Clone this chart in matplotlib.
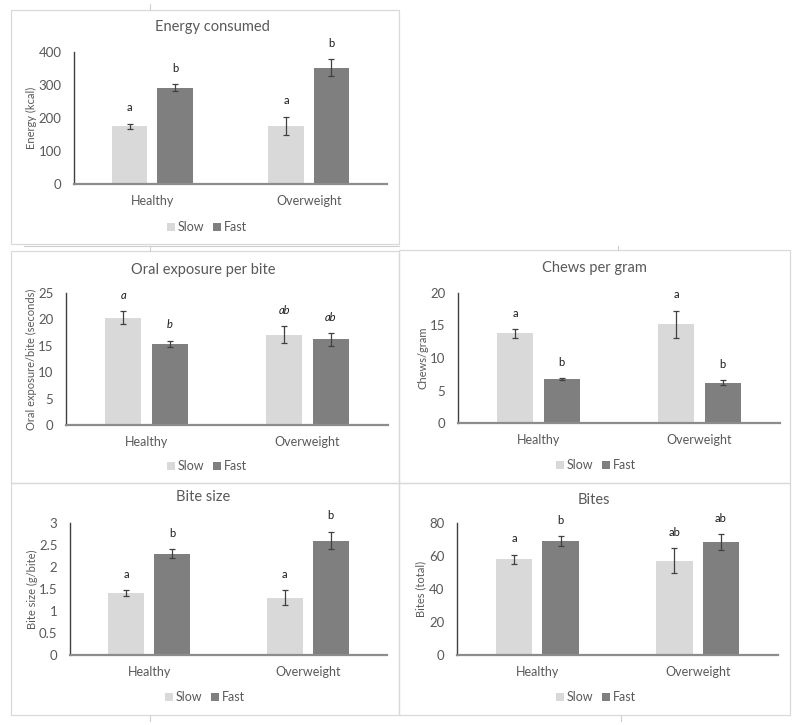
import numpy as np
import matplotlib
matplotlib.use("Agg")
import matplotlib.pyplot as plt
from matplotlib.patches import Rectangle
from matplotlib.lines import Line2D

plt.rcParams['font.family'] = ['Lato', 'DejaVu Sans']

# ---- data ----
groups = ['Healthy', 'Overweight']
series = ['Slow', 'Fast']

energy_slow = [175, 177]
energy_fast = [292, 353]
energy_slow_err = [8, 27]
energy_fast_err = [10, 25]
energy_slow_sig = ['a', 'a']
energy_fast_sig = ['b', 'b']

oral_slow = [20.3, 17.1]
oral_fast = [15.4, 16.2]
oral_slow_err = [1.2, 1.6]
oral_fast_err = [0.6, 1.2]
oral_slow_sig = ['a', 'ab']
oral_fast_sig = ['b', 'ab']

chews_slow = [13.8, 15.2]
chews_fast = [6.75, 6.2]
chews_slow_err = [0.65, 2.1]
chews_fast_err = [0.1, 0.35]
chews_slow_sig = ['a', 'a']
chews_fast_sig = ['b', 'b']

bite_slow = [1.40, 1.30]
bite_fast = [2.30, 2.60]
bite_slow_err = [0.07, 0.17]
bite_fast_err = [0.10, 0.20]
bite_slow_sig = ['a', 'a']
bite_fast_sig = ['b', 'b']

bites_slow = [58.1, 57.1]
bites_fast = [69.0, 68.4]
bites_slow_err = [2.7, 7.5]
bites_fast_err = [2.9, 5.0]
bites_slow_sig = ['a', 'ab']
bites_fast_sig = ['b', 'ab']

W, H = 800, 725
SLOW_C = '#d9d9d9'
FAST_C = '#7f7f7f'
TXT = '#595959'


def fig_rect(l, t, r, b):
    return [l / W, 1 - b / H, (r - l) / W, (b - t) / H]


def border(fig, l, t, r, b, color='#d9d9d9'):
    fig.add_artist(Rectangle((l / W, 1 - b / H), (r - l) / W, (b - t) / H,
                             transform=fig.transFigure, fill=False,
                             edgecolor=color, lw=0.9))


def seg(fig, x0, y0, x1, y1, color='#cfcfcf'):
    fig.add_artist(Line2D([x0 / W, x1 / W], [1 - y0 / H, 1 - y1 / H],
                          transform=fig.transFigure, color=color, lw=0.8))


def draw_panel(fig, ax_px, title, title_xy, ylabel, ylab_x, ymax, ystep,
               slow, fast, slow_err, fast_err, slow_sig, fast_sig,
               legend_xy, italic=False):
    ax = fig.add_axes(fig_rect(*ax_px))
    x = np.arange(len(groups))
    w, off = 0.225, 0.145
    ax.bar(x - off, slow, w, color=SLOW_C, label=series[0], zorder=2)
    ax.bar(x + off, fast, w, color=FAST_C, label=series[1], zorder=2)
    for xs, v, e in ((x - off, slow, slow_err), (x + off, fast, fast_err)):
        ax.errorbar(xs, v, yerr=e, fmt='none', ecolor='#404040',
                    elinewidth=0.9, capsize=2.5, capthick=0.9, zorder=3)
    pad = 0.12 * ymax
    for xs, v, e, s in ((x - off, slow, slow_err, slow_sig),
                        (x + off, fast, fast_err, fast_sig)):
        for xi, vi, ei, si in zip(xs, v, e, s):
            ax.text(xi, vi + ei + pad, si, ha='center', va='center',
                    fontsize=8, color='#1a1a1a',
                    style='italic' if italic else 'normal', clip_on=False)
    ax.set_xlim(-0.5, 1.5)
    ax.set_ylim(0, ymax)
    ticks = np.arange(0, ymax + ystep / 2, ystep)
    ax.set_yticks(ticks, [f'{t:g}' for t in ticks])
    ax.set_xticks(x, groups)
    ax.tick_params(axis='y', length=0, pad=9, labelsize=9.5, labelcolor=TXT)
    ax.tick_params(axis='x', length=0, pad=8, labelsize=9, labelcolor=TXT)
    for s in ('top', 'right'):
        ax.spines[s].set_visible(False)
    ax.spines['left'].set_color('#404040')
    ax.spines['left'].set_linewidth(1.0)
    ax.spines['bottom'].set_color('#8c8c8c')
    ax.spines['bottom'].set_linewidth(1.6)
    ax.patch.set_alpha(0)

    fig.text(title_xy[0] / W, 1 - title_xy[1] / H, title, ha='center',
             va='center', fontsize=10.5, color=TXT)
    yc = (ax_px[1] + ax_px[3]) / 2
    fig.text(ylab_x / W, 1 - yc / H, ylabel, rotation=90, ha='center',
             va='center', fontsize=8, color=TXT)
    ax.legend(loc='center', bbox_to_anchor=(legend_xy[0] / W, 1 - legend_xy[1] / H),
              bbox_transform=fig.transFigure, ncol=2, frameon=False,
              fontsize=9, handlelength=0.6, handleheight=0.6,
              handletextpad=0.25, columnspacing=0.7, labelcolor=TXT,
              borderpad=0)
    return ax


fig = plt.figure(figsize=(W / 100, H / 100), dpi=100)

# panel frames (Word layout)
border(fig, 11, 10, 399, 244)
border(fig, 11, 251, 399, 483)
border(fig, 399, 250, 790, 483)
border(fig, 11, 483, 399, 715)
border(fig, 399, 483, 790, 715)
seg(fig, 24, 246, 399, 246)
seg(fig, 150, 4, 150, 10)
seg(fig, 150, 246, 150, 251)
seg(fig, 618, 246, 618, 250)
seg(fig, 150, 716, 150, 721)
seg(fig, 621, 716, 621, 721)

draw_panel(fig, (74, 52, 387, 184), 'Energy consumed', (212, 27),
           'Energy (kcal)', 31, 400, 100,
           energy_slow, energy_fast, energy_slow_err, energy_fast_err,
           energy_slow_sig, energy_fast_sig, (207, 227))

draw_panel(fig, (66, 293, 388, 425), 'Oral exposure per bite', (203, 270),
           'Oral exposure/bite (seconds)', 31, 25, 5,
           oral_slow, oral_fast, oral_slow_err, oral_fast_err,
           oral_slow_sig, oral_fast_sig, (207, 466), italic=True)

draw_panel(fig, (458, 293, 780, 423), 'Chews per gram', (594, 268),
           'Chews/gram', 423, 20, 5,
           chews_slow, chews_fast, chews_slow_err, chews_fast_err,
           chews_slow_sig, chews_fast_sig, (596, 465))

draw_panel(fig, (70, 523, 387, 655), 'Bite size', (203, 497),
           'Bite size (g/bite)', 32, 3, 0.5,
           bite_slow, bite_fast, bite_slow_err, bite_fast_err,
           bite_slow_sig, bite_fast_sig, (205, 697))

draw_panel(fig, (457, 523, 778, 655), 'Bites', (594, 500),
           'Bites (total)', 421, 80, 20,
           bites_slow, bites_fast, bites_slow_err, bites_fast_err,
           bites_slow_sig, bites_fast_sig, (596, 697))

fig.savefig('out.png', dpi=100, facecolor='white')
